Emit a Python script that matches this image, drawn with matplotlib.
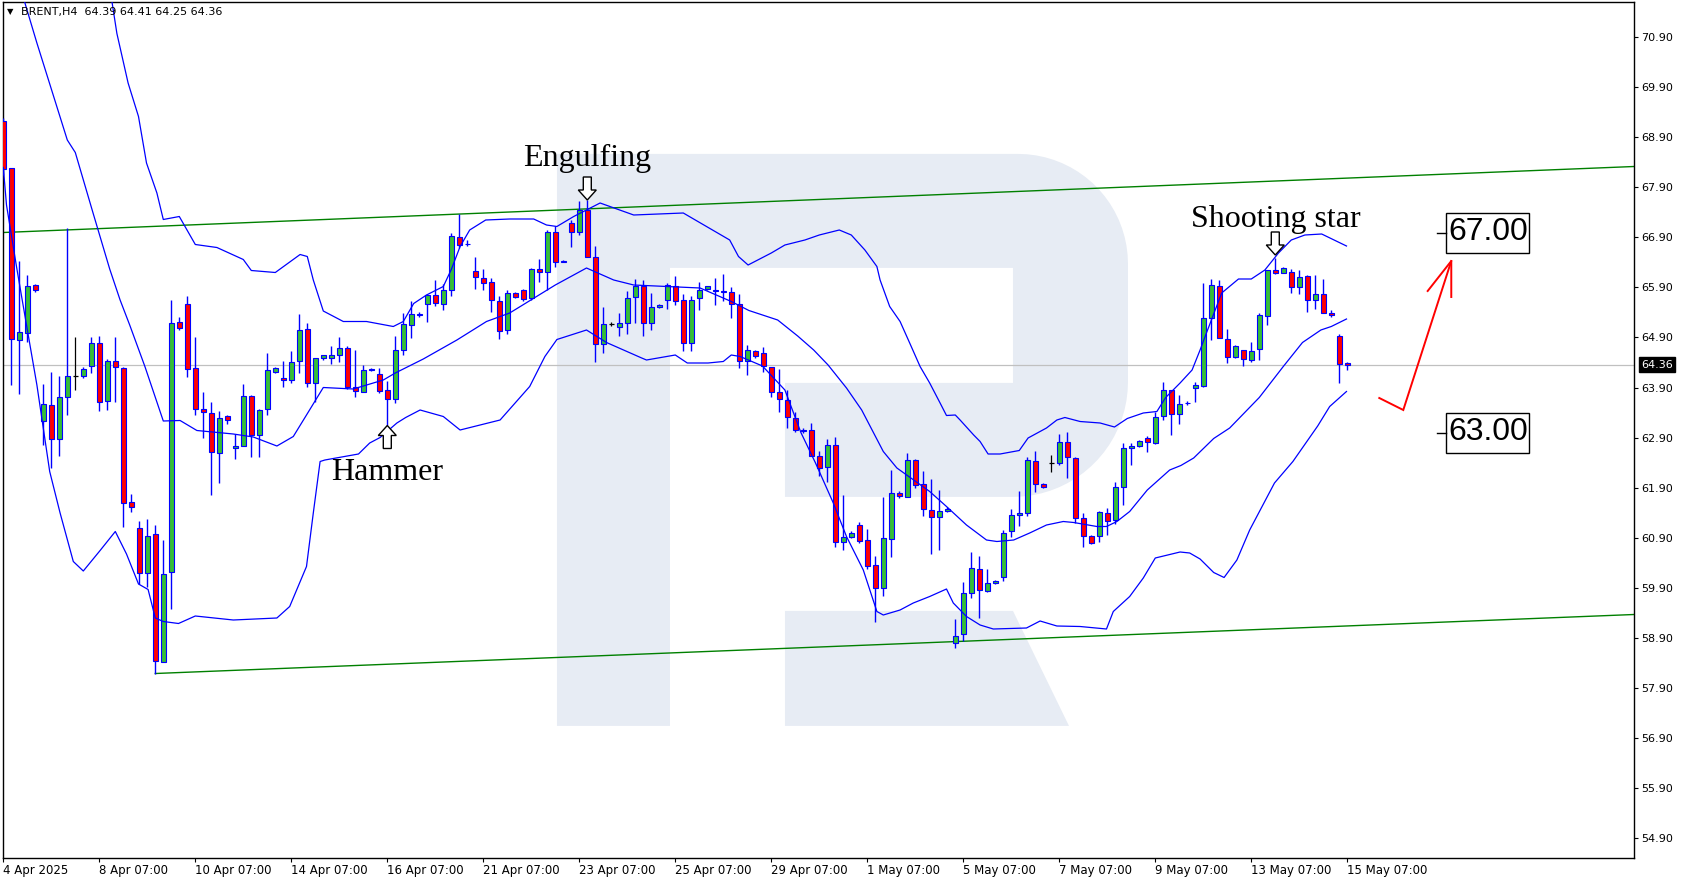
import matplotlib
matplotlib.use("Agg")
import matplotlib.pyplot as plt
import matplotlib.transforms as mtransforms
from matplotlib.patches import Rectangle, Polygon
import numpy as np

# BRENT H4, candle 0 = 4 Apr 2025 03:00
opens = [69.22, 68.28, 64.86, 65.00, 65.95, 63.23, 63.56, 62.88, 63.72, 64.12,
         64.13, 64.34, 64.78, 63.64, 64.44, 64.30, 61.60, 61.09, 60.19, 60.97,
         58.41, 60.21, 65.21, 65.56, 64.28, 63.48, 63.38, 62.60, 63.32, 62.69,
         62.73, 63.74, 62.95, 63.47, 64.22, 64.10, 64.05, 64.43, 65.07, 63.99,
         64.49, 64.49, 64.54, 64.69, 63.91, 63.81, 64.25, 64.17, 63.84, 63.67,
         64.65, 65.16, 65.36, 65.58, 65.75, 65.58, 65.85, 66.91, 66.76, 66.24,
         66.09, 66.01, 65.62, 65.04, 65.79, 65.85, 65.69, 66.27, 66.21, 67.01,
         66.42, 67.19, 67.01, 67.44, 66.51, 64.77, 65.17, 65.11, 65.19, 65.72,
         65.92, 65.19, 65.52, 65.65, 65.94, 65.65, 64.80, 65.70, 65.87, 65.84,
         65.82, 65.82, 65.57, 64.43, 64.63, 64.60, 64.32, 63.82, 63.66, 63.30,
         63.04, 63.05, 62.53, 62.31, 62.75, 60.82, 60.91, 61.15, 60.85, 60.35,
         59.89, 60.87, 61.79, 61.71, 62.45, 61.97, 61.45, 61.32, 61.43, 58.80,
         58.97, 59.80, 60.27, 59.83, 59.99, 60.11, 61.03, 61.35, 61.40, 62.44,
         61.97, 62.39, 62.39, 62.82, 62.49, 61.29, 60.94, 60.93, 61.39, 61.25,
         61.91, 62.69, 62.73, 62.89, 62.80, 63.33, 63.84, 63.37, 63.59, 63.90,
         63.94, 65.30, 65.93, 64.87, 64.52, 64.64, 64.45, 64.67, 65.34, 66.25,
         66.19, 66.20, 65.91, 66.12, 65.65, 65.77, 65.39, 64.93, 64.39]
highs = [69.29, 68.30, 66.44, 66.16, 65.97, 63.97, 64.22, 64.13, 67.10, 64.92,
         64.32, 64.92, 64.94, 64.47, 64.90, 64.32, 61.77, 61.24, 61.27, 61.15,
         60.85, 65.66, 65.31, 65.73, 64.90, 63.81, 63.62, 63.44, 63.36, 62.97,
         63.97, 63.76, 63.48, 64.59, 64.31, 64.43, 64.64, 65.37, 65.19, 64.49,
         64.56, 64.73, 64.91, 64.74, 64.66, 64.35, 64.29, 64.29, 64.03, 64.93,
         65.39, 65.62, 65.41, 65.76, 66.06, 65.97, 66.99, 67.38, 66.85, 66.51,
         66.28, 66.10, 65.73, 65.85, 65.81, 65.88, 66.29, 66.47, 67.04, 67.12,
         66.45, 67.25, 67.62, 67.65, 66.74, 65.52, 65.22, 65.39, 65.84, 66.08,
         66.06, 65.79, 65.58, 66.00, 66.13, 65.76, 65.74, 66.02, 65.93, 66.09,
         66.17, 65.90, 65.77, 64.75, 64.65, 64.71, 64.32, 64.26, 63.85, 63.42,
         63.09, 63.20, 62.64, 62.87, 62.92, 61.75, 61.04, 61.22, 61.07, 60.53,
         61.71, 62.25, 61.84, 62.60, 62.47, 62.24, 62.07, 61.85, 61.52, 59.27,
         60.02, 60.62, 60.54, 60.27, 60.05, 61.06, 61.48, 61.84, 62.52, 62.63,
         61.99, 62.55, 62.98, 63.02, 62.52, 61.39, 60.96, 61.43, 61.49, 62.01,
         62.79, 62.80, 62.85, 62.94, 63.42, 64.02, 63.86, 63.75, 63.63, 64.01,
         66.00, 66.07, 66.05, 65.08, 64.75, 64.64, 64.81, 65.39, 66.25, 66.49,
         66.31, 66.27, 66.25, 66.16, 66.16, 66.08, 65.45, 64.97, 64.41]
lows = [68.15, 63.95, 63.77, 64.81, 65.82, 62.76, 62.29, 62.54, 63.35, 63.86,
        64.10, 64.19, 63.44, 63.45, 63.61, 61.11, 61.42, 59.97, 59.92, 58.18,
        58.41, 59.48, 65.06, 64.11, 63.35, 62.90, 61.75, 62.00, 63.18, 62.48,
        62.73, 62.52, 62.51, 63.36, 64.19, 63.91, 63.99, 64.19, 63.91, 63.61,
        64.46, 64.37, 64.41, 63.87, 63.71, 63.81, 64.23, 63.79, 63.16, 63.59,
        64.54, 64.89, 65.31, 65.21, 65.53, 65.46, 65.73, 66.69, 66.73, 65.87,
        65.86, 65.40, 64.87, 64.97, 65.68, 65.63, 65.65, 66.01, 65.85, 66.32,
        66.40, 66.72, 66.95, 66.51, 64.40, 64.60, 65.12, 64.94, 64.98, 65.19,
        64.94, 65.05, 65.50, 65.47, 65.55, 64.62, 64.64, 65.45, 65.85, 65.55,
        65.62, 65.30, 64.30, 64.16, 64.50, 64.22, 63.72, 63.42, 63.09, 63.02,
        63.00, 62.53, 62.13, 62.02, 60.71, 60.65, 60.89, 60.79, 60.28, 59.22,
        59.74, 60.51, 61.70, 61.71, 61.90, 61.34, 60.57, 60.65, 61.41, 58.69,
        58.84, 59.70, 59.29, 59.82, 59.97, 60.03, 60.92, 61.14, 61.33, 61.82,
        61.89, 62.22, 62.36, 62.09, 61.19, 60.71, 60.77, 60.82, 60.96, 61.17,
        61.55, 62.36, 62.71, 62.61, 62.78, 63.25, 62.95, 63.17, 63.56, 63.62,
        63.91, 64.85, 64.89, 64.39, 64.50, 64.33, 64.40, 64.45, 65.15, 66.17,
        66.18, 65.80, 65.77, 65.40, 65.47, 65.39, 65.32, 64.00, 64.25]
closes = [68.26, 64.88, 65.00, 65.94, 65.85, 63.56, 62.88, 63.72, 64.13, 64.12,
          64.26, 64.80, 63.62, 64.44, 64.32, 61.60, 61.51, 60.19, 60.94, 58.43,
          60.18, 65.19, 65.10, 64.28, 63.48, 63.41, 62.61, 63.30, 63.26, 62.73,
          63.72, 62.95, 63.45, 64.25, 64.28, 64.05, 64.41, 65.05, 63.99, 64.49,
          64.54, 64.54, 64.69, 63.91, 63.83, 64.25, 64.27, 63.83, 63.67, 64.65,
          65.17, 65.37, 65.37, 65.75, 65.59, 65.85, 66.93, 66.75, 66.77, 66.11,
          65.99, 65.65, 65.03, 65.79, 65.71, 65.67, 66.27, 66.21, 67.02, 66.41,
          66.44, 67.01, 67.44, 66.51, 64.77, 65.17, 65.17, 65.19, 65.69, 65.93,
          65.19, 65.52, 65.55, 65.94, 65.64, 64.79, 65.66, 65.85, 65.92, 65.85,
          65.83, 65.57, 64.43, 64.65, 64.53, 64.33, 63.82, 63.67, 63.31, 63.05,
          63.05, 62.53, 62.29, 62.75, 60.81, 60.91, 60.99, 60.84, 60.33, 59.90,
          60.89, 61.79, 61.74, 62.45, 61.95, 61.47, 61.32, 61.43, 61.47, 58.94,
          59.80, 60.29, 59.85, 59.99, 60.03, 61.00, 61.34, 61.40, 62.45, 61.97,
          61.91, 62.39, 62.82, 62.52, 61.29, 60.93, 60.80, 61.41, 61.24, 61.91,
          62.69, 62.73, 62.83, 62.81, 63.31, 63.84, 63.37, 63.57, 63.60, 63.95,
          65.29, 65.95, 64.89, 64.52, 64.73, 64.47, 64.64, 65.35, 66.25, 66.19,
          66.30, 65.91, 66.11, 65.65, 65.77, 65.39, 65.35, 64.37, 64.36]

# Bollinger bands (candle index, price)
bb_up_x = [13.0, 13.5, 14.2, 15.6, 16.9, 17.9, 19.2, 20.0, 22.0, 24.0, 26.7, 30.0, 31.0,
           34.0, 37.1, 38.0, 38.75, 40.0, 42.5, 45.4, 48.75, 50.0, 51.3, 52.9, 55.0,
           56.0, 57.1, 58.3, 60.3, 63.3, 66.3, 67.9, 69.2, 71.3, 74.6, 78.8, 85.0,
           90.8, 91.9, 93.1, 96.0, 97.7, 100.2, 102.0, 104.5, 106.0, 107.7, 109.2,
           109.6, 110.8, 112.1, 113.3, 114.6, 115.8, 117.1, 117.9, 119.0, 119.6,
           121.3, 122.1, 123.1, 124.6, 127.0, 128.1, 130.4, 131.7, 132.7, 134.6,
           137.1, 138.9, 140.5, 142.5, 144.2, 145.3, 147.1, 148.6, 149.6, 150.3,
           152.3, 154.4, 156.0, 157.7, 159.4, 161.0, 162.7, 164.8, 167.9]
bb_up = [72.20, 71.70, 70.98, 69.99, 69.32, 68.39, 67.79, 67.26, 67.32, 66.76, 66.70, 66.46,
         66.24, 66.20, 66.56, 66.52, 66.05, 65.43, 65.22, 65.22, 65.12, 65.22, 65.58,
         65.75, 65.92, 66.26, 66.72, 67.05, 67.25, 67.27, 67.27, 67.15, 67.12, 67.32,
         67.59, 67.35, 67.39, 66.85, 66.52, 66.35, 66.59, 66.75, 66.85, 66.95, 67.05,
         66.95, 66.65, 66.32, 66.05, 65.52, 65.22, 64.79, 64.32, 63.99, 63.59, 63.34,
         63.35, 63.25, 62.95, 62.82, 62.57, 62.57, 62.64, 62.89, 63.09, 63.25, 63.30,
         63.22, 63.19, 63.11, 63.28, 63.39, 63.42, 63.70, 63.99, 64.25, 64.65, 64.95,
         65.79, 66.07, 66.07, 66.25, 66.59, 66.85, 66.95, 66.97, 66.73]
bb_mid_x = [1.5, 2.5, 4.2, 8.0, 9.0, 11.2, 13.3, 14.6, 15.8, 17.7, 20.0, 22.1, 24.2, 28.75,
            31.25, 34.2, 36.25, 37.9, 40.0, 43.75, 47.5, 49.0, 52.5, 56.7, 60.4, 63.3,
            69.0, 72.9, 76.3, 78.8, 87.1, 91.0, 93.2, 96.8, 99.3, 101.3, 103.1, 105.4,
            107.3, 110.0, 111.7, 113.8, 115.8, 117.9, 120.4, 122.9, 124.2, 126.3, 128.3,
            130.4, 132.5, 133.8, 136.7, 137.9, 139.2, 140.8, 143.0, 145.8, 147.2, 148.8,
            151.3, 153.3, 157.0, 160.0, 162.4, 164.7, 166.0, 167.9]
bb_mid = [72.20, 71.70, 70.79, 68.85, 68.60, 67.40, 66.27, 65.65, 65.15, 64.32, 63.23, 63.24,
          63.04, 62.97, 62.91, 62.73, 62.92, 63.35, 63.90, 63.87, 64.05, 64.19, 64.47,
          64.85, 65.22, 65.39, 65.95, 66.29, 66.05, 65.95, 65.89, 65.62, 65.44, 65.25,
          64.93, 64.65, 64.35, 63.89, 63.45, 62.62, 62.29, 62.05, 61.82, 61.52, 61.15,
          60.85, 60.82, 60.85, 60.99, 61.15, 61.22, 61.20, 61.12, 61.12, 61.22, 61.42,
          61.85, 62.25, 62.34, 62.49, 62.88, 63.09, 63.70, 64.32, 64.80, 65.05, 65.12,
          65.27]
bb_lo_x = [0.0, 0.4, 1.7, 2.9, 4.2, 5.8, 7.1, 8.75, 10.0, 12.1, 14.0, 15.4, 16.9, 18.1,
           19.0, 20.0, 21.9, 24.0, 28.75, 34.2, 35.8, 37.9, 38.75, 39.6, 40.2, 44.4, 45.8,
           47.1, 49.2, 50.3, 52.1, 55.0, 57.1, 62.1, 65.8, 67.7, 69.2, 72.9, 75.4, 79.8,
           80.4, 84.0, 85.5, 88.1, 90.0, 91.0, 92.1, 94.9, 97.7, 99.7, 101.5, 103.75,
           105.4, 107.5, 109.2, 110.0, 112.1, 113.75, 115.8, 117.9, 118.75, 120.4, 122.1,
           123.75, 127.9, 129.6, 131.7, 134.6, 137.9, 138.75, 140.8, 142.5, 144.0, 147.1,
           148.3, 149.6, 151.3, 152.6, 154.2, 155.8, 158.9, 161.2, 164.3, 165.8, 167.9]
bb_lo = [68.30, 67.55, 66.27, 65.15, 63.95, 62.22, 61.39, 60.42, 60.23, 60.64, 61.02, 60.57,
         59.97, 59.86, 59.29, 59.22, 59.18, 59.33, 59.25, 59.29, 59.52, 60.32, 61.39,
         62.42, 62.45, 62.57, 62.79, 62.90, 63.19, 63.30, 63.45, 63.32, 63.05, 63.25,
         63.92, 64.52, 64.86, 65.05, 64.80, 64.49, 64.45, 64.55, 64.39, 64.39, 64.42,
         64.55, 64.52, 64.33, 63.85, 63.00, 62.40, 61.59, 60.92, 60.25, 59.42, 59.35,
         59.45, 59.59, 59.72, 59.87, 59.59, 59.32, 59.15, 59.07, 59.09, 59.23, 59.13,
         59.12, 59.07, 59.42, 59.72, 60.09, 60.49, 60.61, 60.59, 60.47, 60.20, 60.10,
         60.45, 61.05, 61.99, 62.42, 63.13, 63.52, 63.82]

# trend channel lines (candle index, price)
chan_hi_x = [0.0, 203.84]
chan_hi_y = [67.00, 68.32]
chan_lo_x = [19.0, 203.84]
chan_lo_y = [58.18, 59.36]

last_price = 64.36
price_ticks = [54.90 + k for k in range(17)]
date_pos = list(range(0, 169, 12))
date_labels = ["4 Apr 2025", "8 Apr 07:00", "10 Apr 07:00", "14 Apr 07:00", "16 Apr 07:00",
               "21 Apr 07:00", "23 Apr 07:00", "25 Apr 07:00", "29 Apr 07:00", "1 May 07:00",
               "5 May 07:00", "7 May 07:00", "9 May 07:00", "13 May 07:00", "15 May 07:00"]

# forecast arrow and target levels
fc_x = [172.0, 175.0, 181.0]
fc_y = [63.69, 63.45, 66.43]
fc_head_x = [178.05, 181.0, 181.0]
fc_head_y = [65.83, 66.43, 65.71]
targets = [67.00, 63.00]

# chart scale: 8 px per candle, 50 px per 1.00
PX_X, PX_Y = 8.0, 50.0


def px(x, y):
    # full-size pixel -> data coords
    return (x - 3.3) / PX_X, 70.90 - (y - 37.6) / PX_Y


fig = plt.figure(figsize=(16.84, 8.82), dpi=100)
fig.patch.set_facecolor("white")
ax = fig.add_axes([3 / 1684, 24 / 882, 1631 / 1684, 856 / 882])
ax.set_xlim(-0.0375, 203.84)
ax.set_ylim(54.49, 71.61)

# watermark R
wm = "#e7ecf4"
pts = [(557, 154), (1018, 154)]
for a in np.linspace(90, 0, 20):
    pts.append((1018 + 110 * np.cos(np.radians(a)), 264 - 110 * np.sin(np.radians(a))))
for a in np.linspace(0, -90, 20):
    pts.append((1013 + 115 * np.cos(np.radians(a)), 382 - 115 * np.sin(np.radians(a))))
pts += [(785, 497), (785, 383), (1013, 383), (1013, 268), (670, 268), (670, 726), (557, 726)]
ax.add_patch(Polygon([px(*p) for p in pts], closed=True, fc=wm, ec="none", zorder=0.5))
leg = [(785, 611), (1013, 611), (1069, 726), (785, 726)]
ax.add_patch(Polygon([px(*p) for p in leg], closed=True, fc=wm, ec="none", zorder=0.5))

ax.axhline(last_price, color="#c0c0c0", lw=0.9, zorder=1)

ax.plot(chan_hi_x, chan_hi_y, color="#008000", lw=1.0, zorder=2)
ax.plot(chan_lo_x, chan_lo_y, color="#008000", lw=1.0, zorder=2)

# candles
bw = 0.6
for i in range(len(opens)):
    o, h, l, c = opens[i], highs[i], lows[i], closes[i]
    if o == c:
        ax.vlines(i, l, h, color="black", lw=0.9, zorder=3)
        ax.hlines(o, i - bw / 2, i + bw / 2, color="black", lw=0.9, zorder=3)
        continue
    ax.vlines(i, l, h, color="#0000ff", lw=1.0, zorder=3)
    fc = "#36be36" if c > o else "#ff0000"
    ax.add_patch(Rectangle((i - bw / 2, min(o, c)), bw, abs(c - o),
                           fc=fc, ec="#0000ff", lw=0.8, zorder=4))

ax.plot(bb_up_x, bb_up, color="#0000ff", lw=0.9, zorder=5)
ax.plot(bb_mid_x, bb_mid, color="#0000ff", lw=0.9, zorder=5)
ax.plot(bb_lo_x, bb_lo, color="#0000ff", lw=0.9, zorder=5)


def hollow_arrow(i, price, down=True):
    shape = [(0, 0), (-9, 10), (-4, 10), (-4, 23), (4, 23), (4, 10), (9, 10)]
    s = 1 if down else -1
    p = [(i + dx / PX_X, price + s * dy / PX_Y) for dx, dy in shape]
    ax.add_patch(Polygon(p, closed=True, fc="white", ec="black", lw=1.0, zorder=6))


serif = ["Liberation Serif", "DejaVu Serif"]
hollow_arrow(73, highs[73], down=True)
ax.text(73, highs[73] + 34 / PX_Y, "Engulfing", family=serif, fontsize=23,
        ha="center", va="baseline", zorder=6)
hollow_arrow(48, lows[48] - 1 / PX_Y, down=False)
ax.text(48, lows[48] - 56 / PX_Y, "Hammer", family=serif, fontsize=23,
        ha="center", va="baseline", zorder=6)
hollow_arrow(159, highs[159] + 3 / PX_Y, down=True)
ax.text(159.1, highs[159] + 31 / PX_Y, "Shooting star", family=serif, fontsize=23,
        ha="center", va="baseline", zorder=6)

# forecast
ax.plot(fc_x, fc_y, color="#ff0000", lw=1.4, zorder=6, solid_joinstyle="miter")
ax.plot(fc_head_x, fc_head_y, color="#ff0000", lw=1.4, zorder=6)
for t in targets:
    ax.add_patch(Rectangle((180.4, t - 0.40), 10.35, 0.80, fc="white", ec="black",
                           lw=1.0, zorder=6))
    ax.plot([179.2, 180.4], [t, t], color="black", lw=1.0, zorder=6)
    ax.text(185.6, t, f"{t:.2f}", family=["Liberation Sans", "DejaVu Sans"], fontsize=23,
            ha="center", va="center", zorder=7)

# axes look
for sp in ax.spines.values():
    sp.set_color("black")
    sp.set_linewidth(1.0)
ax.yaxis.tick_right()
ax.set_yticks(price_ticks)
ax.set_yticklabels([f"{v:.2f}" for v in price_ticks])
ax.tick_params(axis="y", length=3, width=0.8, pad=2, labelsize=8, colors="black")
ax.set_xticks(date_pos)
ax.set_xticklabels(date_labels, ha="left")
ax.tick_params(axis="x", length=3, width=0.8, pad=1, labelsize=8.5, colors="black")

tr = mtransforms.blended_transform_factory(ax.transAxes, ax.transData)
ax.text(1.0 + 7 / 1631, last_price, f"{last_price:.2f}", transform=tr, color="white",
        fontsize=8, ha="left", va="center",
        bbox=dict(boxstyle="square,pad=0.2", fc="black", ec="black"), zorder=8)

fig.text(10 / 1684, 1 - 12 / 882, "\u25bc", fontsize=6, ha="center", va="center")
fig.text(21 / 1684, 1 - 12 / 882, "BRENT,H4  64.39 64.41 64.25 64.36", fontsize=8,
         ha="left", va="center")

fig.savefig("out.png", dpi=100)
